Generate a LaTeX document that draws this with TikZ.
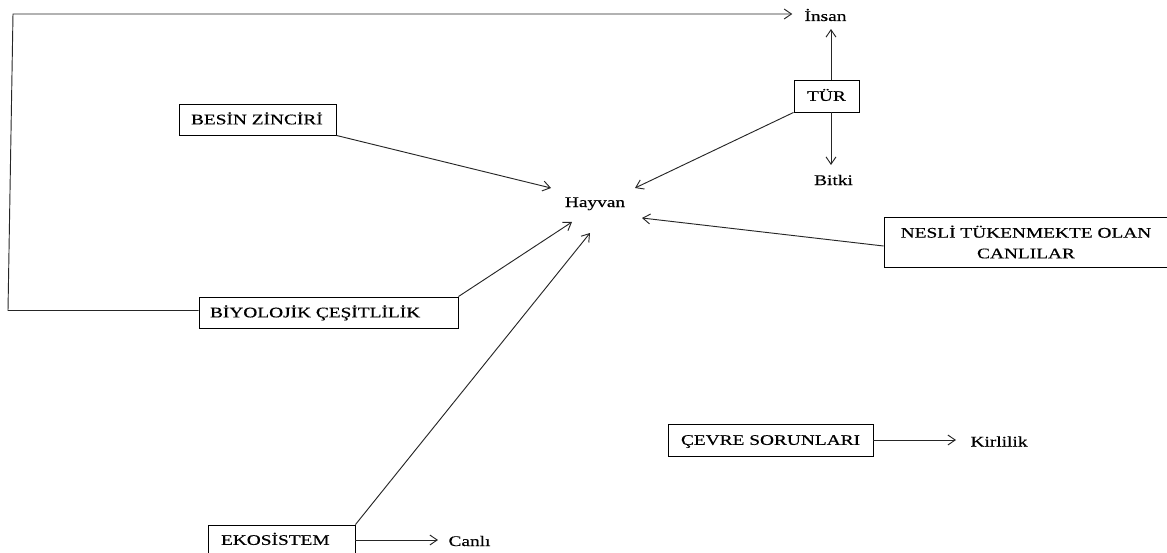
\documentclass[tikz,border=0pt]{standalone}
\usepackage{fontspec}
\setmainfont{Liberation Serif}[FakeStretch=1.32,FakeBold=0.4]
\usetikzlibrary{arrows.meta}

\begin{document}
\begin{tikzpicture}[x=0.75pt,y=-0.75pt,
  font=\fontsize{11}{15.5}\selectfont,
  wire/.style={draw=black!85, line width=0.7pt},
  arr/.style={wire, -{Straight Barb[length=5.5pt,width=7.5pt]}},
  lbl/.style={inner sep=0pt, anchor=base},
  boxbase/.style={draw=black, line width=0.7pt, inner ysep=0pt,
                  text height=7.3pt, text depth=0pt},
]
\useasboundingbox (0,0) rectangle (1167,553);

% boxed concepts
\node[boxbase, inner xsep=9pt, minimum height=23.25pt] (besin) at (257.5,119.5)
  {\makebox[99.75pt][l]{BESİN ZİNCİRİ}};
\node[boxbase, inner xsep=0pt, minimum width=48.75pt, minimum height=24pt] (tur) at (826.5,96) {TÜR};
\node[draw=black, line width=0.7pt, align=center, inner sep=0pt,
      minimum width=213pt, minimum height=37.5pt] (nesli) at (1026,242)
  {NESLİ TÜKENMEKTE OLAN\\CANLILAR};
\node[boxbase, inner xsep=8.25pt, minimum height=23.25pt] (biyo) at (328.5,312.5)
  {\makebox[177.75pt][l]{BİYOLOJİK ÇEŞİTLİLİK}};
\node[boxbase, inner xsep=9.75pt, minimum height=22.5pt] (eko) at (281.5,540)
  {\makebox[90.75pt][l]{EKOSİSTEM}};
\node[boxbase, inner xsep=9.75pt, minimum height=24pt] (cevre) at (770.5,440)
  {\makebox[134.25pt][l]{ÇEVRE SORUNLARI}};

% plain labels
\node[lbl] (hayvan)   at (595,207)   {Hayvan};
\node[lbl] (insan)    at (825.5,21)  {İnsan};
\node[lbl] (bitki)    at (833.5,185) {Bitki};
\node[lbl] (canli)    at (469.5,546) {Canlı};
\node[lbl] (kirlilik) at (999,446.5) {Kirlilik};

% helper points
\coordinate (bend1) at (8,310.5);
\coordinate (bend2) at (13,14);
\coordinate (insanfoot) at ([shift={(5.5,8)}]insan.base);
\coordinate (bitkitop)  at ([shift={(-2.5,-20)}]bitki.base);

% connectors into Hayvan
\draw[arr] (besin.south east) -- ([shift={(-44,-19)}]hayvan.base);
\draw[arr] (tur.south west)   -- ([shift={(40,-19)}]hayvan.base);
\draw[arr] ([shift={(0,4)}]nesli.west) -- ([shift={(47,11)}]hayvan.base);
\draw[arr] (biyo.north east)  -- ([shift={(-23,15)}]hayvan.base);
\draw[arr] (eko.north east)   -- ([shift={(-5,26)}]hayvan.base);

% TÜR branches
\draw[arr] (tur.north -| insanfoot) -- (insanfoot);
\draw[arr] (tur.south -| bitkitop) -- (bitkitop);

% long loop from BİYOLOJİK ÇEŞİTLİLİK to İnsan
\draw[arr] ([shift={(0,-2)}]biyo.west) -- (bend1) -- (bend2)
  -- ([shift={(-12,-7)}]insan.base west);

% side arrows
\draw[arr] (eko.east) -- ([shift={(-31.5,-6)}]canli.base);
\draw[arr] (cevre.east) -- ([shift={(-43,-6.5)}]kirlilik.base);
\end{tikzpicture}
\end{document}
